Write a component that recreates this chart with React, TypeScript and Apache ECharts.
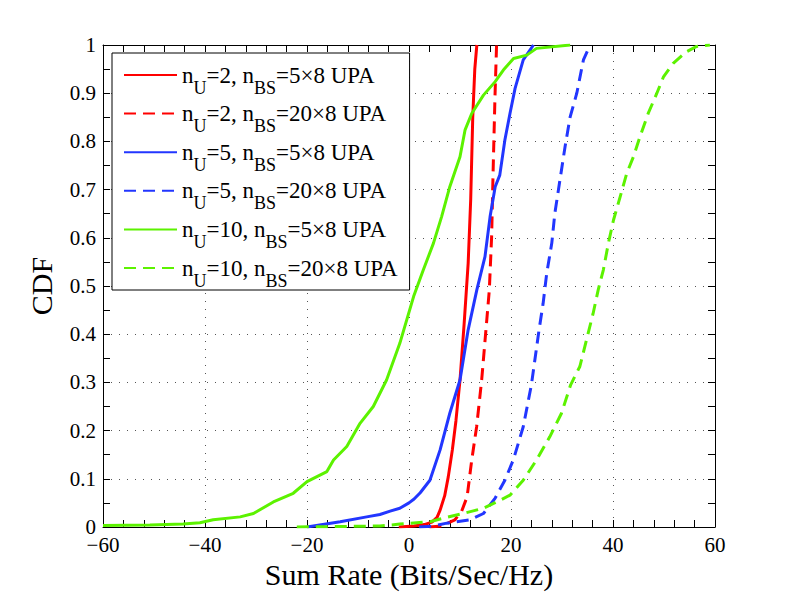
import React, { useEffect, useRef } from "react";
import * as echarts from "echarts";

const seriesNames = [
  "n_U=2, n_BS=5×8 UPA",
  "n_U=2, n_BS=20×8 UPA",
  "n_U=5, n_BS=5×8 UPA",
  "n_U=5, n_BS=20×8 UPA",
  "n_U=10, n_BS=5×8 UPA",
  "n_U=10, n_BS=20×8 UPA",
];

const xTicks = [-60, -40, -20, 0, 20, 40, 60];
const yTicks = [0, 0.1, 0.2, 0.3, 0.4, 0.5, 0.6, 0.7, 0.8, 0.9, 1];

const nu2bs5x8: [number, number][] = [
  [-2, 0], [1, 0.002], [3, 0.005], [4.5, 0.01], [5.5, 0.02], [6.1, 0.035], [7, 0.065],
  [7.7, 0.104], [8.5, 0.16], [9.2, 0.22], [10, 0.305], [10.8, 0.42], [11.6, 0.547],
  [12.1, 0.68], [12.5, 0.85], [12.9, 0.95], [13.3, 1.0],
];

const nu2bs20x8: [number, number][] = [
  [4, 0], [6.4, 0.002], [9, 0.015], [10.3, 0.032], [11.4, 0.063], [12.3, 0.139],
  [13.26, 0.208], [14.25, 0.305], [15.2, 0.423], [15.75, 0.492], [16.2, 0.602],
  [16.5, 0.741], [16.86, 0.893], [17.17, 1.0],
];

const nu5bs5x8: [number, number][] = [
  [-20, 0], [-13.5, 0.011], [-8.3, 0.021], [-5.7, 0.026], [-3.7, 0.033], [-1.8, 0.039],
  [0, 0.05], [1, 0.058], [2.2, 0.071], [4.1, 0.097], [6.1, 0.16], [8, 0.236], [10, 0.305],
  [11.6, 0.409], [13.3, 0.492], [14.9, 0.561], [15.9, 0.644], [16.9, 0.706], [17.8, 0.73],
  [18.8, 0.803], [19.8, 0.858], [20.8, 0.91], [22.4, 0.969], [24.4, 1.0],
];

const nu5bs20x8: [number, number][] = [
  [2, 0], [4.7, 0.002], [7.4, 0.008], [12, 0.015], [14.6, 0.028], [16.9, 0.06], [18.8, 0.097],
  [20.45, 0.139], [22.4, 0.208], [24, 0.295], [25.5, 0.409], [26.3, 0.464], [27, 0.526],
  [28, 0.589], [28.6, 0.651], [29.6, 0.72], [30.6, 0.789], [31.6, 0.851], [32.9, 0.9],
  [34.2, 0.969], [35.5, 1.0],
];

const nu10bs5x8: [number, number][] = [
  [-60, 0.003], [-50.8, 0.004], [-44.3, 0.006], [-41, 0.009], [-38.4, 0.015], [-33.1, 0.021],
  [-30.5, 0.028], [-26.6, 0.052], [-22.7, 0.07], [-20, 0.094], [-16.1, 0.115], [-14.8, 0.139],
  [-12.2, 0.167], [-9.6, 0.215], [-7, 0.25], [-4.4, 0.305], [-1.8, 0.381], [0.9, 0.478],
  [2.8, 0.533], [4.8, 0.589], [6.4, 0.644], [8, 0.706], [10, 0.768], [11, 0.824],
  [12.3, 0.858], [14.6, 0.896], [16.9, 0.924], [18.5, 0.948], [20.5, 0.972], [23.1, 0.979],
  [25, 0.993], [31.6, 1.0],
];

const nu10bs20x8: [number, number][] = [
  [-22, 0], [-5.7, 0.002], [-1.8, 0.006], [4.1, 0.011], [7.4, 0.02], [10.6, 0.028],
  [14.6, 0.039], [17.2, 0.052], [19.8, 0.066], [22.4, 0.097], [25, 0.139], [27.6, 0.187],
  [29.9, 0.236], [31.7, 0.295], [33.5, 0.333], [34.8, 0.388], [36.1, 0.443], [37.1, 0.492],
  [38.1, 0.533], [39.1, 0.589], [40.1, 0.637], [41.4, 0.685], [42.7, 0.734], [44, 0.768],
  [45.3, 0.81], [46.9, 0.858], [48.6, 0.9], [49.9, 0.934], [51.8, 0.962], [54.4, 0.986],
  [56.4, 0.997], [59, 1.0],
];

const seriesData = [nu2bs5x8, nu2bs20x8, nu5bs5x8, nu5bs20x8, nu10bs5x8, nu10bs20x8];
const seriesColors = ["#ff0000", "#ff0000", "#2236ff", "#2236ff", "#5cf200", "#5cf200"];
const seriesDashed = [false, true, false, true, false, true];

const FONT = "'Liberation Serif', 'Times New Roman', serif";

export default function App() {
  const ref = useRef<HTMLDivElement>(null);

  useEffect(() => {
    if (!ref.current) return;
    const chart = echarts.init(ref.current, undefined, { renderer: "svg" });

    const tickCommon = {
      axisLine: { show: true, onZero: false, lineStyle: { color: "#000", width: 1 } },
      axisTick: { show: true, inside: true, length: 7, lineStyle: { color: "#000", width: 1 } },
    };

    const option: any = {
      animation: false,
      backgroundColor: "#fff",
      textStyle: { fontFamily: FONT },
      grid: {
        left: 103,
        right: 74,
        top: 45,
        bottom: 67,
        containLabel: false,
        outerBoundsMode: "none",
      },
      legend: {
        show: true,
        orient: "vertical",
        left: 112,
        top: 53,
        padding: [0.5, 12, 0.5, 11],
        itemGap: -4.4,
        itemWidth: 53,
        itemHeight: 14,
        backgroundColor: "#fff",
        borderColor: "#000",
        borderWidth: 1,
        borderRadius: 0,
        selectedMode: false,
        itemStyle: { opacity: 0, borderWidth: 0 },
        data: seriesNames,
        formatter: (name: string) =>
          name.replace("n_U", "n{s|U}").replace("n_BS", "n{s|BS}"),
        textStyle: {
          fontFamily: FONT,
          fontSize: 23,
          lineHeight: 30,
          color: "#000",
          rich: {
            s: {
              fontFamily: FONT,
              fontSize: 18,
              lineHeight: 30,
              color: "#000",
              padding: [25, 0, 0, 0],
            },
          },
        },
      },
      xAxis: [
        {
          type: "value",
          min: xTicks[0],
          max: xTicks[xTicks.length - 1],
          interval: 20,
          position: "bottom",
          ...tickCommon,
          minorTick: { show: true, splitNumber: 5, length: 7, lineStyle: { color: "#000", width: 1 } },
          splitLine: { show: true, lineStyle: { color: "#555", width: 1, type: [1, 7] } },
          minorSplitLine: { show: false },
          axisLabel: {
            show: true,
            margin: 7,
            fontFamily: FONT,
            fontSize: 21,
            color: "#000",
            formatter: (v: number) => String(v).replace("-", "\u2212"),
          },
          name: "Sum Rate (Bits/Sec/Hz)",
          nameLocation: "middle",
          nameGap: 32,
          nameTextStyle: { fontFamily: FONT, fontSize: 30, color: "#000" },
        },
        {
          type: "value",
          min: xTicks[0],
          max: xTicks[xTicks.length - 1],
          interval: 20,
          position: "top",
          ...tickCommon,
          minorTick: { show: true, splitNumber: 5, length: 7, lineStyle: { color: "#000", width: 1 } },
          splitLine: { show: false },
          axisLabel: { show: false },
        },
      ],
      yAxis: [
        {
          type: "value",
          min: yTicks[0],
          max: yTicks[yTicks.length - 1],
          interval: 0.1,
          position: "left",
          ...tickCommon,
          minorTick: { show: true, splitNumber: 2, length: 7, lineStyle: { color: "#000", width: 1 } },
          splitLine: { show: true, lineStyle: { color: "#555", width: 1, type: [1, 7] } },
          axisLabel: {
            show: true,
            margin: 7,
            fontFamily: FONT,
            fontSize: 21,
            color: "#000",
            formatter: (v: number) => {
              const r = Math.round(v * 10) / 10;
              return r === 0 ? "0" : r === 1 ? "1" : r.toFixed(1);
            },
          },
          name: "CDF",
          nameLocation: "middle",
          nameGap: 47,
          nameRotate: 90,
          nameTextStyle: { fontFamily: FONT, fontSize: 30, color: "#000" },
        },
        {
          type: "value",
          min: yTicks[0],
          max: yTicks[yTicks.length - 1],
          interval: 0.1,
          position: "right",
          ...tickCommon,
          minorTick: { show: true, splitNumber: 2, length: 7, lineStyle: { color: "#000", width: 1 } },
          splitLine: { show: false },
          axisLabel: { show: false },
        },
      ],
      series: seriesNames.map((name, i) => ({
        name,
        type: "line",
        xAxisIndex: 0,
        yAxisIndex: 0,
        data: seriesData[i],
        symbol: "none",
        showSymbol: false,
        smooth: false,
        clip: true,
        lineStyle: {
          color: seriesColors[i],
          width: 3,
          type: seriesDashed[i] ? [12, 7] : "solid",
        },
        itemStyle: { color: seriesColors[i] },
        emphasis: { disabled: true },
      })),
    };

    chart.setOption(option);
    return () => chart.dispose();
  }, []);

  return (
    <div
      ref={ref}
      style={{ position: "fixed", left: 0, top: 0, width: 789, height: 594, background: "#fff" }}
    />
  );
}
